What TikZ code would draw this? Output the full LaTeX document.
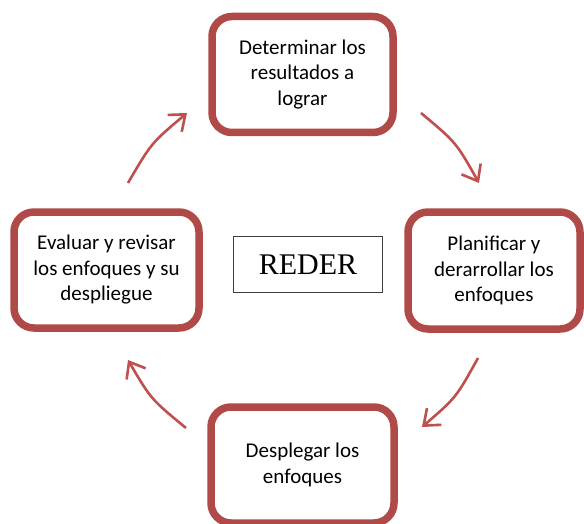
\documentclass[tikz,border=0pt]{standalone}
\usepackage{fontspec}
\setmainfont{Carlito}
\newfontfamily\rederfont{Liberation Serif}
\usetikzlibrary{arrows.meta}
\definecolor{boxred}{RGB}{176,74,72}
\definecolor{arrowred}{RGB}{192,80,77}
\begin{document}
\begin{tikzpicture}[x=1pt,y=-1pt,
  stage/.style={draw=boxred, line width=7.5pt, rounded corners=20pt, fill=white,
    align=center, font=\fontsize{21}{25.5}\selectfont,
    minimum width=181pt, minimum height=116pt, inner sep=0pt},
  centerbox/.style={draw=black!75, line width=1pt, fill=white, inner sep=0pt,
    minimum width=149pt, minimum height=56pt,
    font=\rederfont\fontsize{30}{36}\selectfont},
  cyclearrow/.style={draw=arrowred, line width=2.6pt,
    -{Straight Barb[length=14pt,width=22pt,line width=2.6pt]}},
]
\fill[white] (0,0) rectangle (584,524);
\useasboundingbox (0,0) rectangle (584,524);

% the four stages of the cycle
\node[stage] (top) at (302.5,74.5) {Determinar los\\resultados a\\lograr};
\node[stage, minimum width=172pt, minimum height=117pt] (right) at (494,270.5)
  {Planificar y\\derarrollar los\\enfoques};
\node[stage, minimum width=183pt] (bottom) at (302.5,465) {Desplegar los\\enfoques};
\node[stage, minimum width=185pt] (left) at (106.5,270)
  {Evaluar y revisar\\los enfoques y su\\despliegue};

% title in the middle
\node[centerbox] (reder) at (308,264.5) {REDER};

% curved arrows between the stages
\coordinate (a1s) at (128,183); \coordinate (a1c) at (151.4,142.9); \coordinate (a1e) at (187,113);
\coordinate (a2s) at (421,113); \coordinate (a2c) at (456.1,142.4); \coordinate (a2e) at (479,183);
\coordinate (a3s) at (478,358); \coordinate (a3c) at (456.2,397.5); \coordinate (a3e) at (422,427);
\coordinate (a4s) at (186,428); \coordinate (a4c) at (150.9,399.1); \coordinate (a4e) at (128,360);

\draw[cyclearrow] (a1s) .. controls (a1c) .. (a1e);
\draw[cyclearrow] (a2s) .. controls (a2c) .. (a2e);
\draw[cyclearrow] (a3s) .. controls (a3c) .. (a3e);
\draw[cyclearrow] (a4s) .. controls (a4c) .. (a4e);
\end{tikzpicture}
\end{document}
